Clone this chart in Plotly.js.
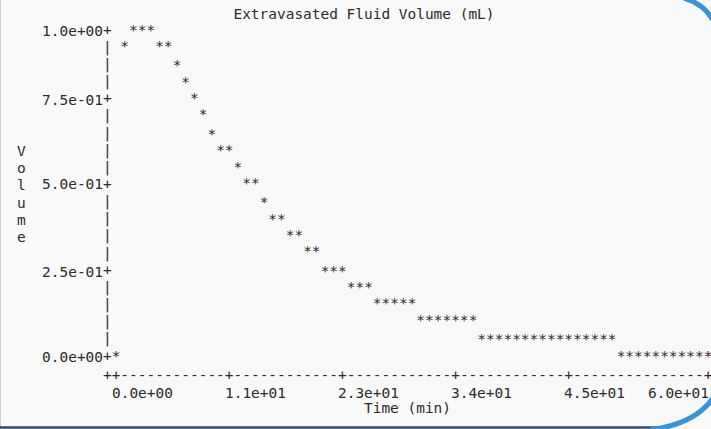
<!DOCTYPE html>
<html>
<head>
<meta charset="utf-8">
<script src="https://cdn.plot.ly/plotly-3.0.1.min.js"></script>
<style>
  html, body { margin: 0; padding: 0; background: #f9f9f9; }
  #chart { width: 711px; height: 429px; }
</style>
</head>
<body>
<div id="chart"></div>
<script>
// Extravasated fluid volume over time, one reading per text column
const timeMin = [
  0.00, 0.88, 1.76, 2.65, 3.53, 4.41, 5.29, 6.18, 7.06, 7.94,
  8.82, 9.71, 10.59, 11.47, 12.35, 13.24, 14.12, 15.00, 15.88, 16.76,
  17.65, 18.53, 19.41, 20.29, 21.18, 22.06, 22.94, 23.82, 24.71, 25.59,
  26.47, 27.35, 28.24, 29.12, 30.00, 30.88, 31.76, 32.65, 33.53, 34.41,
  35.29, 36.18, 37.06, 37.94, 38.82, 39.71, 40.59, 41.47, 42.35, 43.24,
  44.12, 45.00, 45.88, 46.76, 47.65, 48.53, 49.41, 50.29, 51.18, 52.06,
  52.94, 53.82, 54.71, 55.59, 56.47, 57.35, 58.24, 59.12, 60.00
];
const volumeMl = [
  0.00, 0.95, 1.00, 1.00, 1.00, 0.95, 0.95, 0.89, 0.84, 0.79,
  0.74, 0.68, 0.63, 0.63, 0.58, 0.53, 0.53, 0.47, 0.42, 0.42,
  0.37, 0.37, 0.32, 0.32, 0.26, 0.26, 0.26, 0.21, 0.21, 0.21,
  0.16, 0.16, 0.16, 0.16, 0.16, 0.11, 0.11, 0.11, 0.11, 0.11,
  0.11, 0.11, 0.05, 0.05, 0.05, 0.05, 0.05, 0.05, 0.05, 0.05,
  0.05, 0.05, 0.05, 0.05, 0.05, 0.05, 0.05, 0.05, 0.00, 0.00,
  0.00, 0.00, 0.00, 0.00, 0.00, 0.00, 0.00, 0.00, 0.00
];

const xTickVals = [0, 11.47, 22.94, 34.41, 45.88, 60];
const xTickText = ['0.0e+00', '1.1e+01', '2.3e+01', '3.4e+01', '4.5e+01', '6.0e+01'];
const yTickVals = [1.0, 0.79, 0.53, 0.26, 0.0];
const yTickText = ['1.0e+00', '7.5e-01', '5.0e-01', '2.5e-01', '0.0e+00'];

const chartTitle = 'Extravasated Fluid Volume (mL)';
const xTitle = 'Time (min)';
const yTitle = 'Volume';

// Terminal-style character grid: one column = 60/68 min, one row = 1/19 mL
const MONO = '"DejaVu Sans Mono", monospace';
const FS = 14.46;
const CW = 8.706;           // character cell width in px
const INK = '#2b2b2b';
const COL_STEP = 60 / 68;
const ROW_STEP = 1 / 19;
const ORIGIN_COL = 8;
const colToX = c => (c - ORIGIN_COL) * COL_STEP;
const rowToY = r => 1 - r * ROW_STEP;
const xToCol = t => Math.round(t / COL_STEP) + ORIGIN_COL;
const yToRow = v => Math.round((1 - v) / ROW_STEP);

// ASCII axis frame: '|' and '+' down the left, '-' and '+' along the bottom
const frameX = [], frameY = [], frameT = [];
const yTickRows = yTickVals.map(yToRow);
for (let r = 0; r <= 19; r++) {
  frameX.push(colToX(7)); frameY.push(rowToY(r));
  frameT.push(yTickRows.includes(r) ? '+' : '|');
}
const xTickCols = xTickVals.map(xToCol);
const lastCol = xToCol(60);
for (let c = 7; c <= lastCol; c++) {
  frameX.push(colToX(c)); frameY.push(rowToY(20.15));
  frameT.push(c === 7 || xTickCols.includes(c) ? '+' : '-');
}

// Plot-area geometry in pixels
const W = 711, H = 429, L = 104, R = 711, T = 20, B = 383;
const pxPerMin = CW / COL_STEP;
const pxPerMl = 326;
const xRange = [(L - 116) / pxPerMin, (R - 116) / pxPerMin];
const yRange = [(357 - B) / pxPerMl, (357 - T) / pxPerMl];
const px = x => (x - L) / (R - L);
const py = y => (B - y) / (B - T);

const textFont = { family: MONO, size: FS, color: INK };

// Vertical y-axis label, one letter per row
const yLetters = yTitle.split('').map((ch, i) => ({
  text: ch, x: px(21), y: rowToY(7 + i), xref: 'paper', yref: 'y',
  showarrow: false, xanchor: 'center', yanchor: 'middle', font: textFont
}));

// Time tick labels start on their tick column; the last one ends on it
const xLabels = xTickText.map((s, i) => {
  const last = i === xTickText.length - 1;
  return {
    text: s, x: xTickVals[i], y: py(392.5), xref: 'x', yref: 'paper',
    showarrow: false, xanchor: last ? 'right' : 'left', yanchor: 'middle',
    xshift: last ? CW / 2 - 2 : -CW / 2 - 1, borderpad: 0, font: textFont
  };
});

// Window border decoration
const shapes = [
  { type: 'line', xref: 'paper', yref: 'paper', x0: px(0.5), x1: px(0.5), y0: py(0), y1: py(429),
    line: { color: '#cbd5de', width: 1 } },
  { type: 'line', xref: 'paper', yref: 'paper', x0: px(0), x1: px(662), y0: py(427.5), y1: py(427.5),
    line: { color: '#2e4a6a', width: 2.5 } },
  { type: 'path', xref: 'paper', yref: 'paper',
    path: `M ${px(650)} ${py(430)} Q ${px(695)} ${py(424)} ${px(713)} ${py(398)}`,
    line: { color: '#3f93d4', width: 5 } },
  { type: 'path', xref: 'paper', yref: 'paper',
    path: `M ${px(684)} ${py(-2)} Q ${px(704)} ${py(4)} ${px(713)} ${py(20)}`,
    line: { color: '#3f93d4', width: 5 } }
];

const traces = [
  {
    type: 'scatter', mode: 'text', name: 'frame',
    x: frameX, y: frameY, text: frameT, textposition: 'middle center',
    textfont: textFont, cliponaxis: false, hoverinfo: 'skip', showlegend: false
  },
  {
    type: 'scatter', mode: 'text', name: 'Volume',
    x: timeMin, y: volumeMl, text: timeMin.map(() => '*'), textposition: 'middle center',
    textfont: textFont, cliponaxis: false, showlegend: false
  }
];

const layout = {
  width: W, height: H,
  margin: { l: L, r: W - R, t: T, b: H - B, pad: 0 },
  paper_bgcolor: '#f9f9f9', plot_bgcolor: '#f9f9f9',
  font: textFont,
  title: {
    text: chartTitle, font: textFont,
    xref: 'container', yref: 'container', x: 364 / W, xanchor: 'center', y: 1 - 14 / H, yanchor: 'middle'
  },
  xaxis: {
    range: xRange, tickmode: 'array', tickvals: xTickVals, showticklabels: false,
    ticks: '', showgrid: false, zeroline: false, showline: false,
    title: { text: xTitle, font: textFont, standoff: 19 }
  },
  yaxis: {
    range: yRange, tickmode: 'array', tickvals: yTickVals, ticktext: yTickText,
    ticks: '', showgrid: false, zeroline: false, showline: false,
    tickfont: textFont
  },
  annotations: yLetters.concat(xLabels),
  shapes: shapes,
  showlegend: false
};

Plotly.newPlot('chart', traces, layout, { staticPlot: true, displayModeBar: false });
</script>
</body>
</html>
